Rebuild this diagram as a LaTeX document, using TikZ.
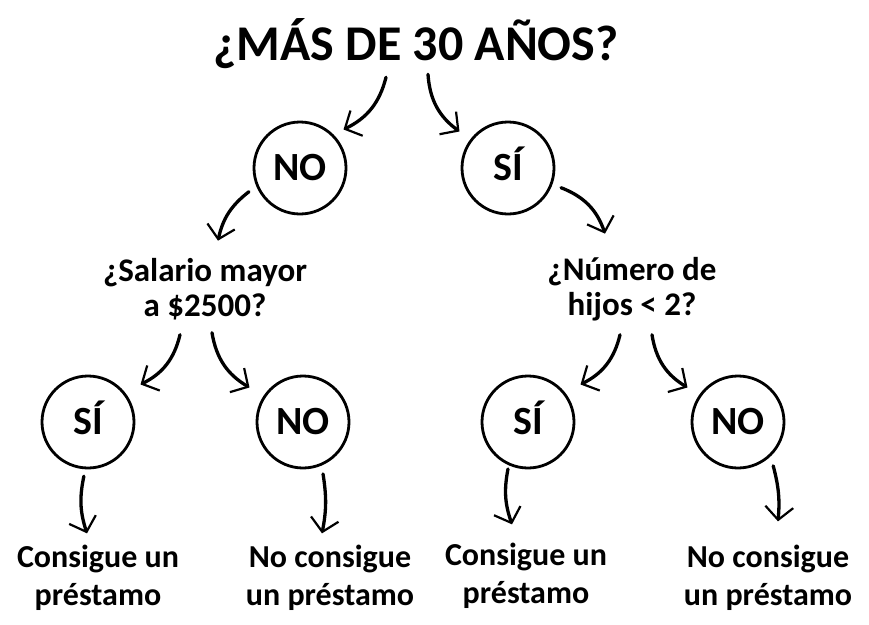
\documentclass[tikz,border=0pt]{standalone}
\usepackage{fontspec}
\setmainfont{Carlito}
\usetikzlibrary{arrows.meta}
\tikzstyle{title} = [inner sep=0pt, font=\fontsize{50}{56}\selectfont\bfseries]
\tikzstyle{question} = [inner sep=0pt, anchor=base, align=center, font=\fontsize{33}{35}\selectfont\bfseries]
\tikzstyle{answer} = [circle, draw=black, line width=2.8pt, minimum size=92pt, inner sep=0pt, text height=25.5pt, text depth=0pt, font=\fontsize{40}{40}\selectfont\bfseries]
\tikzstyle{result} = [inner sep=0pt, anchor=base, align=center, font=\fontsize{32}{38}\selectfont\bfseries]
\tikzstyle{arrow} = [line width=3.3pt, line cap=round, -{Straight Barb[length=13pt, width=28pt, line width=2.2pt]}]

\begin{document}
\begin{tikzpicture}[x=1pt, y=-1pt]
\useasboundingbox (0,0) rectangle (869,624);

\node (title) [title] at (416,44) {¿MÁS DE 30 AÑOS?};
\node (no1) [answer] at (300,168) {NO};
\node (si1) [answer] at (508,168) {SÍ};
\node (salario) [question] at (205,316) {¿Salario mayor\\a \$2500?};
\node (hijos) [question] at (632,315) {¿Número de\\hijos < 2?};
\node (si2) [answer] at (88,422) {SÍ};
\node (no2) [answer] at (303,422) {NO};
\node (si3) [answer] at (528,422) {SÍ};
\node (no3) [answer] at (738,422) {NO};
\node (res1) [result] at (98,605) {Consigue un\\préstamo};
\node (res2) [result] at (330,605) {No consigue\\un préstamo};
\node (res3) [result] at (526,603) {Consigue un\\préstamo};
\node (res4) [result] at (768,605) {No consigue\\un préstamo};

\draw [arrow] ([xshift=-30pt, yshift=-8pt]title.south) to [bend left=25] ([xshift=10pt, yshift=5pt]no1.45);
\draw [arrow] ([xshift=12pt, yshift=-5pt]title.south) to [bend right=25] ([xshift=-15pt, yshift=3pt]si1.135);
\draw [arrow] ([xshift=-10pt]no1.-150) to [bend right=20] ([xshift=13pt, yshift=17pt]salario.north);
\draw [arrow] ([xshift=12pt, yshift=4pt]si1.-30) to [bend left=25] ([xshift=-27pt, yshift=23pt]hijos.north);
\draw [arrow] ([xshift=-25pt, yshift=-15pt]salario.south) to [bend left=25] ([xshift=19pt, yshift=4pt]si2.45);
\draw [arrow] ([xshift=7pt, yshift=-13pt]salario.south) to [bend right=25] ([xshift=-20pt, yshift=1pt]no2.135);
\draw [arrow] ([xshift=-12pt, yshift=-14pt]hijos.south) to [bend left=25] ([xshift=19pt, yshift=4pt]si3.45);
\draw [arrow] ([xshift=20pt, yshift=-14pt]hijos.south) to [bend right=25] ([xshift=-17pt, yshift=1pt]no3.135);
\draw [arrow] ([yshift=-7pt]si2.-95) to [bend right=15] ([xshift=-11pt, yshift=11pt]res1.north);
\draw [arrow] ([yshift=-9pt]no2.-65) to [bend left=10] ([xshift=-8pt, yshift=11pt]res2.north);
\draw [arrow] ([yshift=-4pt]si3.-115) to [bend right=15] ([xshift=-14pt, yshift=18pt]res3.north);
\draw [arrow] ([xshift=8pt, yshift=-5pt]no3.-55) to [bend left=10] ([xshift=10pt, yshift=23pt]res4.north);

\end{tikzpicture}
\end{document}
